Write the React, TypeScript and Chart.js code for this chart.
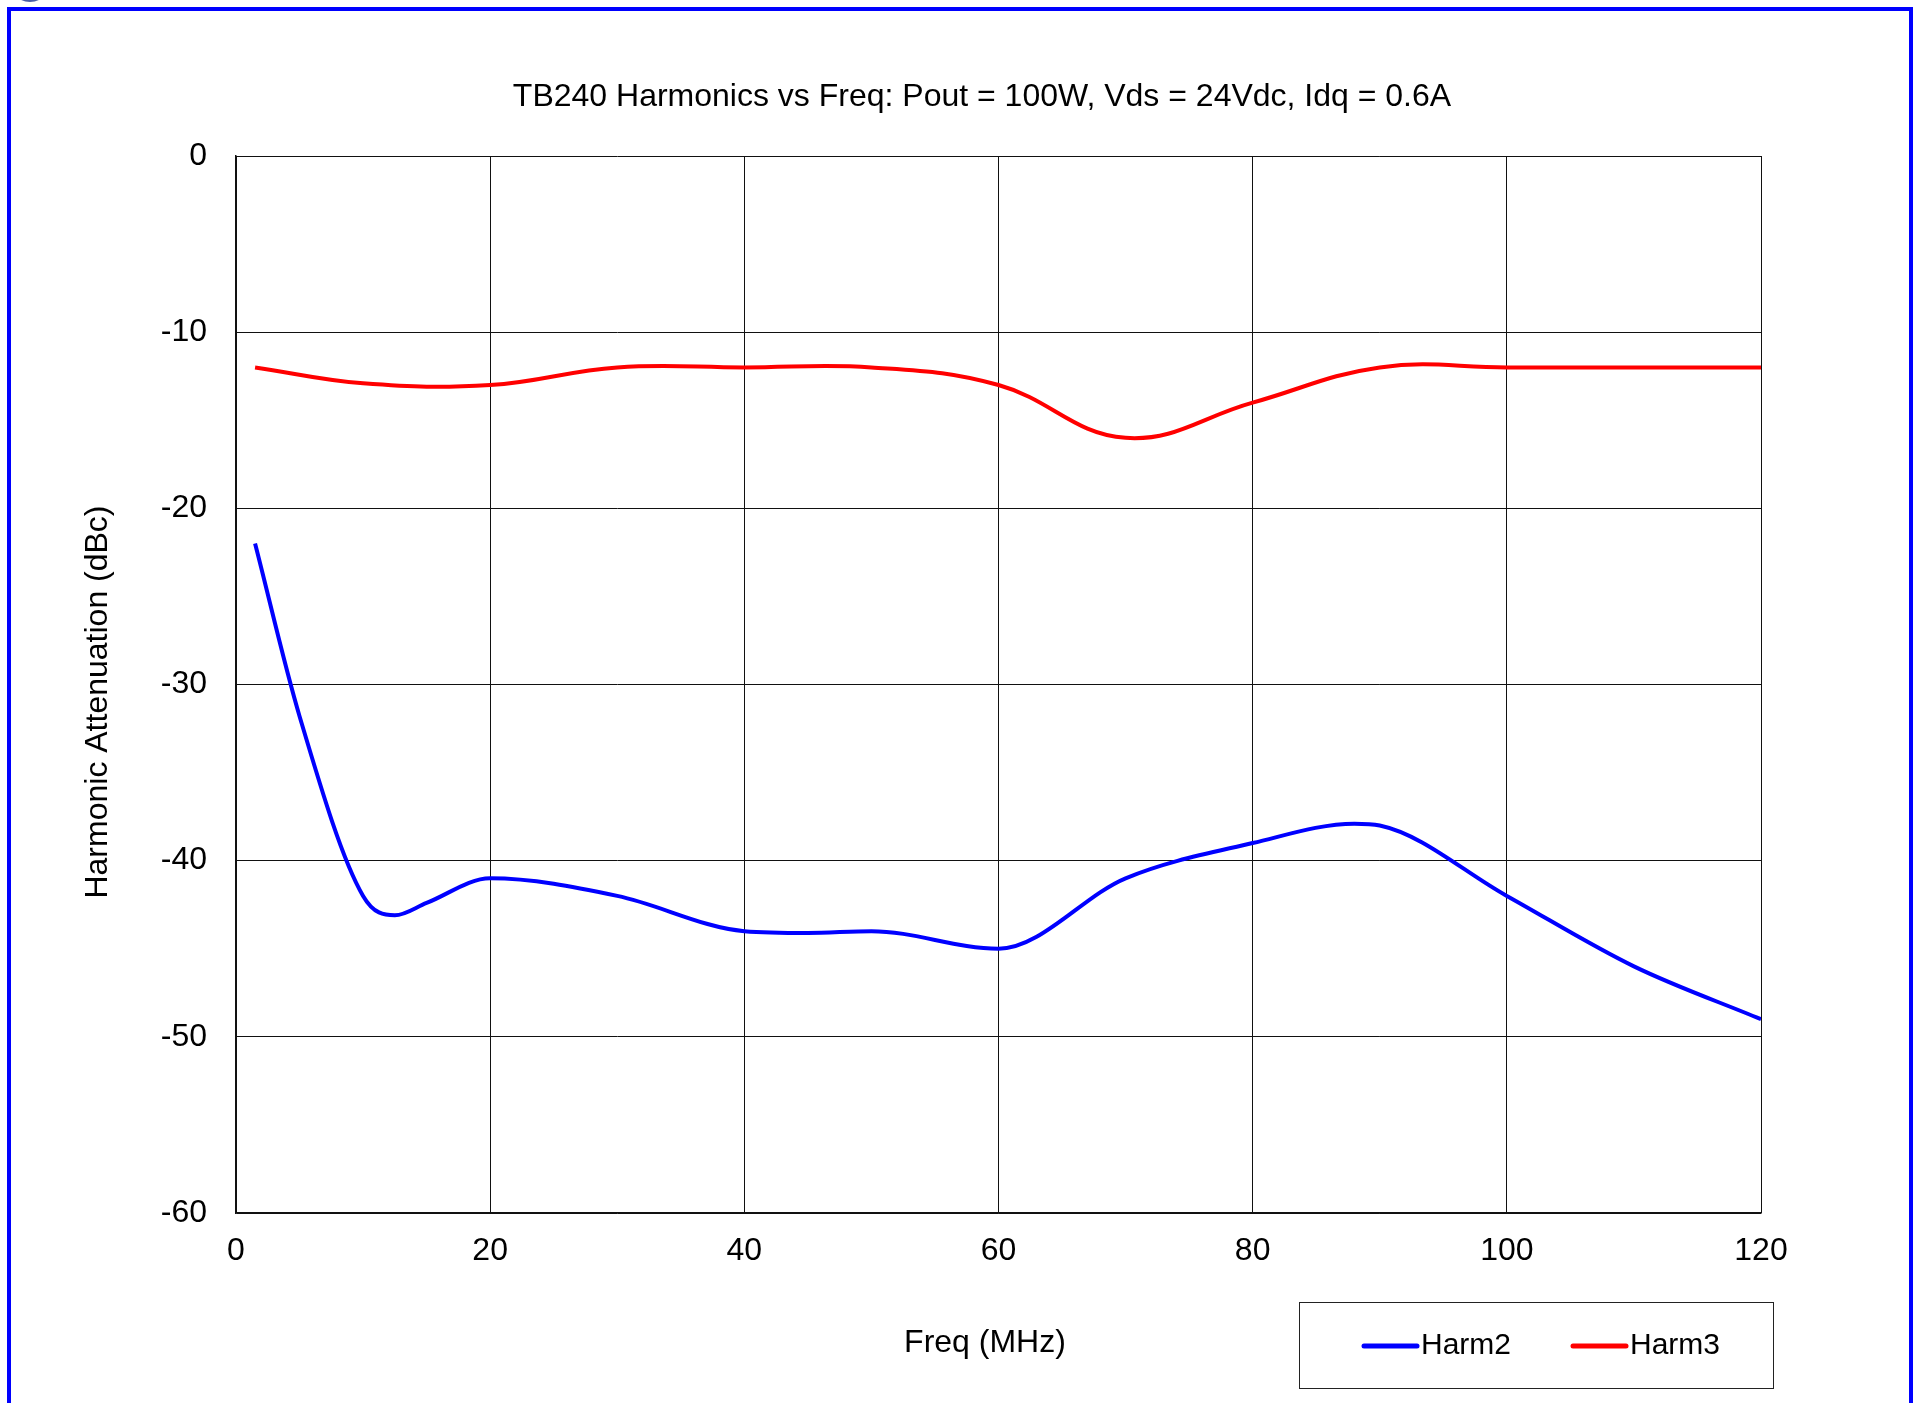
import React, { useEffect, useRef } from "react";
import { Chart, registerables } from "chart.js";

Chart.register(...registerables);

// ---------- data ----------
const TITLE = "TB240 Harmonics vs Freq: Pout = 100W, Vds = 24Vdc, Idq = 0.6A";
const X_TITLE = "Freq (MHz)";
const Y_TITLE = "Harmonic Attenuation (dBc)";

const harm2Freq = [1.5, 5, 10, 12.5, 15, 20, 30, 40, 45, 50, 60, 70, 80, 88, 90, 100, 110, 120];
const harm2Values = [-22, -31.8, -42, -43.1, -42.4, -41, -42, -44, -44.1, -44, -45, -41, -39, -37.9, -38, -42, -46, -49];

const harm3Freq = [1.5, 10, 20, 30, 40, 50, 60, 70, 80, 90, 100, 110, 120];
const harm3Values = [-12, -12.9, -13, -12, -12, -12, -13, -16, -14, -12, -12, -12, -12];

const xTickValues = [0, 20, 40, 60, 80, 100, 120];
const yTickValues = [0, -10, -20, -30, -40, -50, -60];

const seriesLabels = ["Harm2", "Harm3"];
const seriesColors = ["#0000ff", "#ff0000"];

// ---------- layout constants ----------
const CANVAS_W = 1921;
const CANVAS_H = 1403;
const PLOT_LEFT = 236;
const PLOT_RIGHT = 1761;
const PLOT_TOP = 156;
const PLOT_BOTTOM = 1213;
const FONT_FAMILY = '"Liberation Sans", Arial, Helvetica, sans-serif';

const overlayPlugin = {
  id: "overlay",
  afterDraw(chart: any) {
    const ctx = chart.ctx as CanvasRenderingContext2D;
    const area = chart.chartArea;
    ctx.save();
    ctx.fillStyle = "#000";
    ctx.font = `32px ${FONT_FAMILY}`;
    // chart title
    ctx.textAlign = "center";
    ctx.textBaseline = "middle";
    ctx.fillText(TITLE, (area.left + area.right) / 2 - 16.5, 96.8);
    // x-axis title
    ctx.textBaseline = "alphabetic";
    ctx.fillText(X_TITLE, (area.left + area.right) / 2 - 13.5, 1352);
    // y-axis title
    ctx.save();
    ctx.translate(107, (area.top + area.bottom) / 2 + 17.5);
    ctx.rotate(-Math.PI / 2);
    ctx.fillText(Y_TITLE, 0, 0);
    ctx.restore();

    // legend box
    ctx.strokeStyle = "#222";
    ctx.lineWidth = 1;
    ctx.strokeRect(1299.5, 1302.5, 474, 86);
    const legendY = 1346;
    const startXs = [1364, 1573];
    ctx.font = `30px ${FONT_FAMILY}`;
    ctx.textAlign = "left";
    ctx.textBaseline = "middle";
    chart.data.datasets.forEach((ds: any, i: number) => {
      const x0 = startXs[i];
      ctx.strokeStyle = ds.borderColor;
      ctx.lineWidth = 5;
      ctx.lineCap = "round";
      ctx.beginPath();
      ctx.moveTo(x0, legendY);
      ctx.lineTo(x0 + 53, legendY);
      ctx.stroke();
      ctx.fillStyle = "#000";
      ctx.fillText(ds.label, x0 + 57, legendY);
    });
    ctx.restore();
  },
};

export default function App() {
  const canvasRef = useRef<HTMLCanvasElement | null>(null);

  useEffect(() => {
    const canvas = canvasRef.current;
    if (!canvas) return;
    const toPoints = (xs: number[], ys: number[]) => xs.map((x, i) => ({ x, y: ys[i] }));

    const chart = new Chart(canvas, {
      type: "line",
      data: {
        datasets: [
          {
            label: seriesLabels[0],
            data: toPoints(harm2Freq, harm2Values),
            borderColor: seriesColors[0],
            backgroundColor: seriesColors[0],
            borderWidth: 4,
            pointRadius: 0,
            cubicInterpolationMode: "monotone",
            fill: false,
          },
          {
            label: seriesLabels[1],
            data: toPoints(harm3Freq, harm3Values),
            borderColor: seriesColors[1],
            backgroundColor: seriesColors[1],
            borderWidth: 4,
            pointRadius: 0,
            tension: 0.4,
            fill: false,
          },
        ],
      },
      options: {
        responsive: false,
        maintainAspectRatio: false,
        devicePixelRatio: 1,
        animation: false,
        layout: {
          padding: { left: 0, right: CANVAS_W - PLOT_RIGHT, top: PLOT_TOP, bottom: CANVAS_H - PLOT_BOTTOM - 100 },
        },
        plugins: {
          legend: { display: false },
          tooltip: { enabled: false },
          title: { display: false },
        },
        scales: {
          x: {
            type: "linear",
            min: 0,
            max: 120,
            afterFit: (scale: any) => {
              scale.height = 100;
            },
            afterBuildTicks: (scale: any) => {
              scale.ticks = xTickValues.map((v) => ({ value: v }));
            },
            ticks: {
              color: "#000",
              padding: 19.3,
              font: { family: FONT_FAMILY, size: 32, lineHeight: 1.2 },
              callback: (v: any) => String(v),
            },
            grid: { color: "#111", lineWidth: 1, drawTicks: false },
            border: { display: true, color: "#111", width: 1.5 },
          },
          y: {
            type: "linear",
            min: -60,
            max: 0,
            afterFit: (scale: any) => {
              scale.width = PLOT_LEFT;
            },
            afterBuildTicks: (scale: any) => {
              scale.ticks = yTickValues.map((v) => ({ value: v }));
            },
            ticks: {
              color: "#000",
              padding: 29,
              font: { family: FONT_FAMILY, size: 32, lineHeight: 1.2 },
              callback: (v: any) => String(v),
            },
            grid: { color: "#111", lineWidth: 1, drawTicks: false },
            border: { display: true, color: "#111", width: 1.5 },
          },
        },
      },
      plugins: [overlayPlugin],
    });

    return () => {
      chart.destroy();
    };
  }, []);

  return (
    <div
      style={{
        position: "fixed",
        left: 0,
        top: 0,
        width: 1921,
        height: 1403,
        overflow: "hidden",
        background: "#fff",
      }}
    >
      <canvas
        ref={canvasRef}
        width={CANVAS_W}
        height={CANVAS_H}
        style={{ position: "absolute", left: 0, top: 0, width: CANVAS_W, height: CANVAS_H, display: "block" }}
      />
      <div
        style={{
          position: "absolute",
          left: 7,
          top: 7,
          width: 1906,
          height: 1500,
          boxSizing: "border-box",
          border: "4px solid #0000ff",
          pointerEvents: "none",
        }}
      />
      <div
        style={{
          position: "absolute",
          left: 10,
          top: -38,
          width: 40,
          height: 40,
          boxSizing: "border-box",
          borderRadius: "50%",
          border: "2px solid #4b5fa8",
          pointerEvents: "none",
        }}
      />
    </div>
  );
}
